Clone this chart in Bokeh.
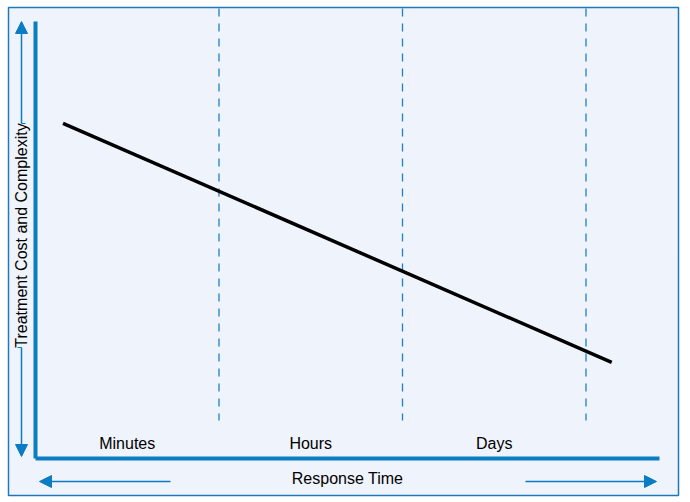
from bokeh.plotting import figure
from bokeh.models import Range1d, Arrow, NormalHead, Label
from bokeh.core.properties import value
from bokeh.embed import file_html
from bokeh.resources import INLINE

# ---- data ----
categories = ["Minutes", "Hours", "Days"]
cat_centers = [0.5, 1.5, 2.5]          # response-time position of each label
dividers = [1, 2, 3]                   # boundaries between time scales
trend_x = [0.15, 3.14]                 # response time (conceptual units)
trend_y = [7.67, 2.20]                 # treatment cost and complexity
x_title = "Response Time"
y_title = "Treatment Cost and Complexity"

W, H = 690, 502
# pixel frame of the conceptual axes
X0_PX, XU_PX = 35.0, 183.5     # x=0 at pixel 35, one unit = 183.5 px
Y0_PX, YU_PX = 458.0, 43.7     # y=0 at pixel 458 (from top), one unit = 43.7 px


def px_x(px):
    return (px - X0_PX) / XU_PX


def px_y(py):
    return (Y0_PX - py) / YU_PX


BLUE = "#0a7cc4"
BORDER = "#1f78b8"
DASH = "#1d82c6"
FONT = "Liberation Sans"
FS = "16px"

p = figure(width=W, height=H, output_backend="svg", toolbar_location=None,
           x_range=Range1d(px_x(0), px_x(W)), y_range=Range1d(px_y(H), px_y(0)),
           min_border=0, min_border_left=0, min_border_right=0,
           min_border_top=0, min_border_bottom=0)
p.axis.visible = False
p.grid.visible = False
p.outline_line_color = None
p.background_fill_color = "white"
p.border_fill_color = "white"

# panel
p.quad(left=[px_x(8)], right=[px_x(678)], top=[px_y(7)], bottom=[px_y(495)],
       fill_color="#eff3fb", line_color=BORDER, line_width=1.5)

# dashed dividers
p.segment(x0=dividers, x1=dividers, y0=[px_y(8)] * len(dividers),
          y1=[px_y(420)] * len(dividers), line_color=DASH, line_width=1.3,
          line_dash="8 7")

# axes lines
p.segment(x0=[0, 0], y0=[px_y(21), 0], x1=[0, px_x(659)], y1=[0, 0],
          line_color=BLUE, line_width=4, line_cap="butt")

# trend line
p.line(trend_x, trend_y, line_color="black", line_width=3.5)

# category labels
p.text(x=cat_centers, y=[px_y(443)] * 3, text=categories,
       text_font=value(FONT), text_font_size=value(FS), text_align="center",
       text_baseline="middle", text_color="black")

# x title
p.add_layout(Label(x=px_x(347), y=px_y(478), text=x_title, text_font=FONT,
                   text_font_size=FS, text_align="center",
                   text_baseline="middle", text_color="black"))
# y title
p.add_layout(Label(x=px_x(21), y=px_y(235), text=y_title, text_font=FONT,
                   text_font_size=FS, text_align="center",
                   text_baseline="middle", angle=1.5708, text_color="black"))

# arrows
def head():
    return NormalHead(size=12, fill_color=BLUE, line_color=BLUE, line_width=1)


ax = px_x(21)
p.add_layout(Arrow(x_start=ax, y_start=px_y(123), x_end=ax, y_end=px_y(21),
                   line_color=BLUE, line_width=1.5, end=head()))
p.add_layout(Arrow(x_start=ax, y_start=px_y(347), x_end=ax, y_end=px_y(456),
                   line_color=BLUE, line_width=1.5, end=head()))
ay = px_y(481)
p.add_layout(Arrow(x_start=px_x(170), y_start=ay, x_end=px_x(39), y_end=ay,
                   line_color=BLUE, line_width=1.5, end=head()))
p.add_layout(Arrow(x_start=px_x(525), y_start=ay, x_end=px_x(656), y_end=ay,
                   line_color=BLUE, line_width=1.5, end=head()))
# small ticks at label ends
p.segment(x0=[px_x(21), px_x(17)], y0=[px_y(123), px_y(347)],
          x1=[px_x(25), px_x(21)], y1=[px_y(123), px_y(347)],
          line_color=BLUE, line_width=1.2)

open("out.html", "w").write(file_html(p, INLINE))
